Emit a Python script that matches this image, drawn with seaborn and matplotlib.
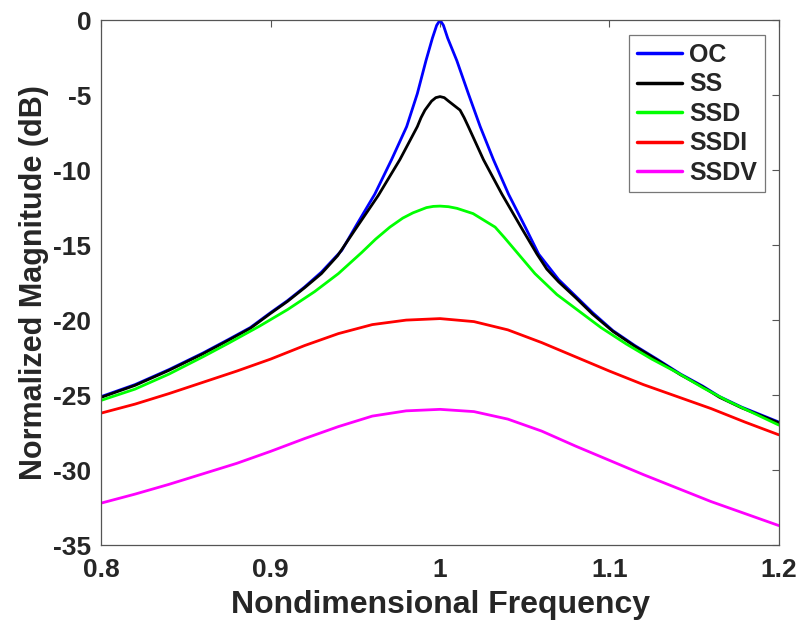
import numpy as np
import pandas as pd
import matplotlib
matplotlib.use("Agg")
import matplotlib.pyplot as plt
import seaborn as sns

# Valores (frecuencia adimensional, magnitud en dB)
oc_x = [0.800, 0.820, 0.840, 0.860, 0.875, 0.888, 0.900, 0.910, 0.920, 0.930,
        0.942, 0.951, 0.9615, 0.9714, 0.9803, 0.9866, 0.9917, 0.9955, 0.998, 1.000,
        1.002, 1.0045, 1.0099, 1.0167, 1.0237, 1.0315, 1.0404, 1.0503, 1.0582, 1.070,
        1.080, 1.090, 1.102, 1.115, 1.128, 1.142, 1.155, 1.165, 1.178, 1.200]
oc_y = [-25.1, -24.3, -23.3, -22.2, -21.3, -20.5, -19.5, -18.7, -17.8, -16.8,
        -15.35, -13.6, -11.6, -9.3, -7.1, -4.9, -2.7, -1.2, -0.35, 0.0,
        -0.35, -1.2, -2.7, -4.9, -7.1, -9.3, -11.6, -13.8, -15.6, -17.3,
        -18.4, -19.5, -20.7, -21.7, -22.6, -23.6, -24.4, -25.1, -25.8, -26.8]

ss_x = [0.800, 0.820, 0.840, 0.860, 0.875, 0.888, 0.900, 0.910, 0.920, 0.930,
        0.9396, 0.9497, 0.9635, 0.9763, 0.9866, 0.9888, 0.9911, 0.995, 0.9975, 1.000,
        1.0025, 1.005, 1.0118, 1.0142, 1.0167, 1.0256, 1.0365, 1.0483, 1.0572, 1.063,
        1.070, 1.080, 1.090, 1.102, 1.115, 1.128, 1.142, 1.155, 1.165, 1.178, 1.200]
ss_y = [-25.15, -24.35, -23.35, -22.25, -21.35, -20.55, -19.55, -18.75, -17.85, -16.9,
        -15.7, -14.0, -11.7, -9.3, -7.1, -6.5, -6.0, -5.4, -5.17, -5.1,
        -5.17, -5.4, -6.0, -6.5, -7.1, -9.3, -11.6, -13.9, -15.6, -16.6,
        -17.45, -18.5, -19.6, -20.75, -21.75, -22.65, -23.65, -24.45, -25.15, -25.85, -26.85]

ssd_x = [0.800, 0.820, 0.840, 0.860, 0.875, 0.8935, 0.910, 0.926, 0.940, 0.9537,
         0.962, 0.9704, 0.978, 0.984, 0.992, 0.996, 1.000, 1.005, 1.010, 1.0195,
         1.0325, 1.038, 1.044, 1.056, 1.069, 1.082, 1.095, 1.110, 1.125, 1.140,
         1.155, 1.170, 1.185, 1.200]
ssd_y = [-25.35, -24.6, -23.6, -22.45, -21.55, -20.4, -19.3, -18.1, -16.9, -15.5,
         -14.6, -13.8, -13.2, -12.85, -12.5, -12.42, -12.4, -12.44, -12.55, -12.9,
         -13.8, -14.5, -15.3, -16.9, -18.3, -19.4, -20.5, -21.6, -22.6, -23.5,
         -24.5, -25.4, -26.2, -27.0]

ssdi_x = [0.80, 0.82, 0.84, 0.86, 0.88, 0.90, 0.92, 0.94, 0.96, 0.98, 1.00,
          1.02, 1.04, 1.06, 1.08, 1.10, 1.12, 1.14, 1.16, 1.18, 1.20]
ssdi_y = [-26.2, -25.6, -24.9, -24.15, -23.4, -22.6, -21.7, -20.9, -20.3, -20.0, -19.9,
          -20.1, -20.65, -21.5, -22.45, -23.4, -24.3, -25.1, -25.9, -26.8, -27.65]

ssdv_x = [0.80, 0.82, 0.84, 0.86, 0.88, 0.90, 0.92, 0.94, 0.96, 0.98, 1.00,
          1.02, 1.04, 1.06, 1.08, 1.10, 1.12, 1.14, 1.16, 1.18, 1.20]
ssdv_y = [-32.2, -31.6, -30.95, -30.25, -29.55, -28.75, -27.9, -27.1, -26.4, -26.05, -25.95,
          -26.1, -26.6, -27.4, -28.4, -29.35, -30.3, -31.2, -32.1, -32.9, -33.7]

series_names = ["OC", "SS", "SSD", "SSDI", "SSDV"]
series_colors = ["#0000ff", "#000000", "#00ff00", "#ff0000", "#ff00ff"]

# Tabla larga para seaborn
frames = []
for name, xs, ys in zip(series_names,
                        [oc_x, ss_x, ssd_x, ssdi_x, ssdv_x],
                        [oc_y, ss_y, ssd_y, ssdi_y, ssdv_y]):
    frames.append(pd.DataFrame({"freq": xs, "mag": ys, "serie": name}))
df = pd.concat(frames, ignore_index=True)

sns.set_style("white")
plt.rcParams['font.family'] = ['Liberation Sans', 'DejaVu Sans']
plt.rcParams['font.weight'] = 'bold'
plt.rcParams['axes.unicode_minus'] = False

fig = plt.figure(figsize=(8.03, 6.28), dpi=100)
ax = fig.add_axes([0.126, 0.132, 0.844, 0.836])

sns.lineplot(data=df, x="freq", y="mag", hue="serie", hue_order=series_names,
             palette=series_colors, estimator=None, sort=False,
             linewidth=2.0, ax=ax)

ax.set_xlim(0.8, 1.2)
ax.set_ylim(-35, 0)
ax.set_xticks([0.8, 0.9, 1.0, 1.1, 1.2])
ax.set_xticklabels(["0.8", "0.9", "1", "1.1", "1.2"])
ax.set_yticks(np.arange(-35, 1, 5))
ax.tick_params(direction="in", length=5, width=0.8, color="#555555",
               top=True, right=True, labelsize=19)
ax.tick_params(axis="x", pad=9)
ax.tick_params(axis="y", pad=7)
for lbl in ax.get_xticklabels() + ax.get_yticklabels():
    lbl.set_fontweight("bold")
for sp in ax.spines.values():
    sp.set_color("#555555")
    sp.set_linewidth(0.9)

ax.set_xlabel("Nondimensional Frequency", fontsize=23, fontweight="bold", labelpad=6)
ax.set_ylabel("Normalized Magnitude (dB)", fontsize=22, fontweight="bold", labelpad=3)

leg = ax.legend(loc="upper right", bbox_to_anchor=(0.979, 0.971), borderaxespad=0,
                fontsize=18, frameon=True, fancybox=False, edgecolor="#555555",
                handlelength=1.8, handletextpad=0.3, labelspacing=0.22,
                borderpad=0.3, title=None)
leg.get_frame().set_linewidth(0.9)
for t in leg.get_texts():
    t.set_fontweight("bold")
for h in leg.get_lines():
    h.set_linewidth(2.5)

fig.savefig("out.png", dpi=100)
